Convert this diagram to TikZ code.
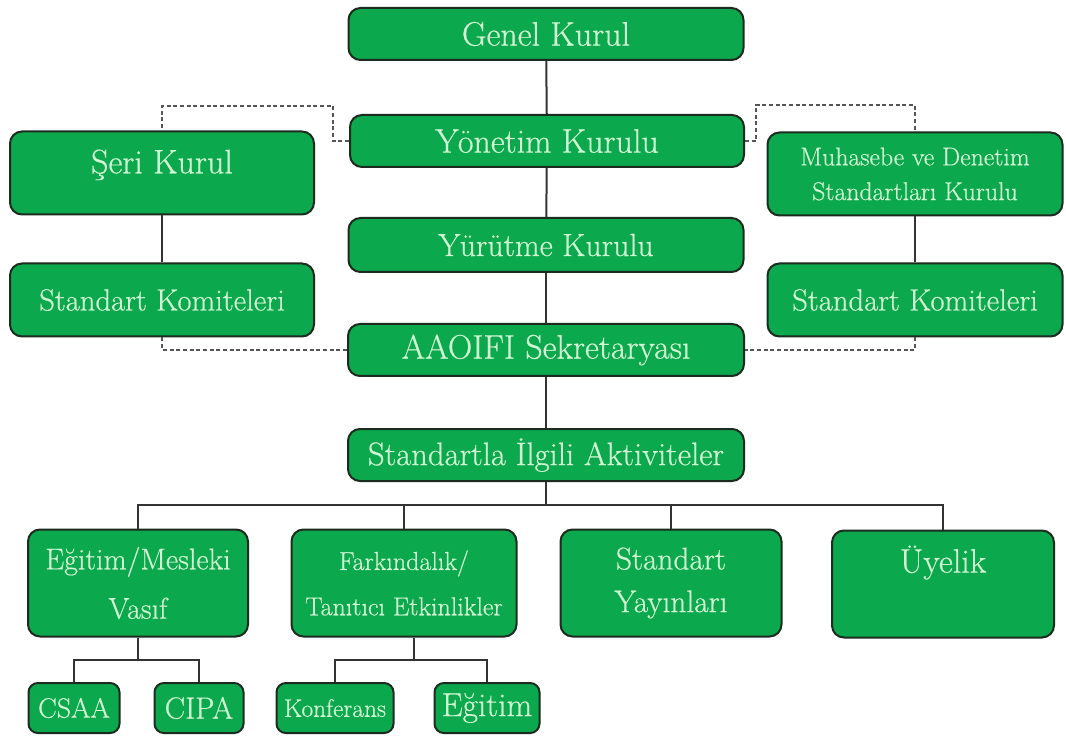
\documentclass[tikz,border=0pt]{standalone}
\usepackage{fontspec}
\setmainfont{Latin Modern Roman}[FakeBold=0.5]
\usetikzlibrary{calc}
\definecolor{boxgreen}{HTML}{0CA84D}
\definecolor{txtgreen}{HTML}{CFF5D2}
\definecolor{edgecol}{HTML}{1C2B1F}
\definecolor{conncol}{HTML}{333333}
\definecolor{dashcol}{HTML}{555555}
\newcommand{\myfs}[2]{\fontsize{#1}{#2}\selectfont}
\tikzset{
  box/.style={draw=edgecol, line width=1.5pt, fill=boxgreen, rounded corners=9pt,
    text=txtgreen, align=center, inner sep=0pt},
  sz/.style 2 args={minimum width=#1*0.75pt, minimum height=#2*0.75pt},
  conn/.style={draw=conncol, line width=1.5pt},
  dsh/.style={draw=dashcol, line width=1pt, dash pattern=on 3pt off 2pt},
}
\begin{document}
\begin{tikzpicture}[x=0.75pt,y=-0.75pt]
\useasboundingbox[fill=white] (0,0) rectangle (1066,737);
% center column
\node[box, sz={395}{52}, font=\myfs{25.5}{30}] (gk) at (546,34) {Genel Kurul};
\node[box, sz={394}{52}, font=\myfs{25.5}{30}] (yon) at (547,141) {Yönetim Kurulu};
\node[box, sz={395}{54}, font=\myfs{24}{30}] (yur) at (546,245) {Yürütme Kurulu};
\node[box, sz={396}{52}, font=\myfs{25.5}{30}] (aao) at (546,350) {AAOIFI Sekretaryası};
\node[box, sz={396}{52}, font=\myfs{24.5}{30}] (sia) at (546,455) {Standartla İlgili Aktiviteler};
% left column
\node[box, sz={304}{83}, font=\myfs{25.5}{30}, text height=18pt, text depth=17.5pt] (seri) at (162,173) {Şeri Kurul};
\node[box, sz={304}{73}, font=\myfs{23}{28}] (skl) at (162,300) {Standart Komiteleri};
% right column
\node[box, sz={295}{83}, font=\myfs{19.3}{26}] (muh) at (915,174) {Muhasebe ve Denetim\\Standartları Kurulu};
\node[box, sz={295}{73}, font=\myfs{23}{28}] (skr) at (915,300) {Standart Komiteleri};
% activities row
\node[box, sz={220}{107}, font=\myfs{22.5}{37}] (em) at (138,583) {Eğitim/Mesleki\\Vasıf};
\node[box, sz={225}{107}, font=\myfs{19.5}{34}] (fk) at (404,583) {Farkındalık/\\Tanıtıcı Etkinlikler};
\node[box, sz={221}{107}, font=\myfs{23.5}{32}] (sy) at (671,583) {Standart\\Yayınları};
\node[box, sz={222}{107}, font=\myfs{25.5}{30}, text height=18pt, text depth=35pt] (uy) at (943,584) {Üyelik};
% bottom row
\node[box, sz={91}{50}, rounded corners=7pt, font=\myfs{21}{24}] (csaa) at (74,708) {CSAA};
\node[box, sz={89}{50}, rounded corners=7pt, font=\myfs{23}{26}] (cipa) at (199,708) {CIPA};
\node[box, sz={117}{50}, rounded corners=7pt, font=\myfs{19}{22}] (kon) at (335,708) {Konferans};
\node[box, sz={105}{50}, rounded corners=7pt, font=\myfs{25}{28}] (eg) at (487,708) {Eğitim};
% solid connectors
\draw[conn] (gk) -- (yon);
\draw[conn] (yon) -- (yur);
\draw[conn] (yur) -- (aao);
\draw[conn] (aao) -- (sia);
\draw[conn] (seri) -- (skl);
\draw[conn] (muh) -- (skr);
\coordinate (busy) at (0,505);
\draw[conn] (sia.south) -- (sia.south |- busy);
\draw[conn] (em.north) |- (uy.north |- busy) -- (uy.north);
\draw[conn] (fk.north) -- (fk.north |- busy);
\draw[conn] (sy.north) -- (sy.north |- busy);
\coordinate (b2) at (0,660);
\draw[conn] (em.south) -- (em.south |- b2);
\draw[conn] (csaa.north) |- (cipa.north |- b2) -- (cipa.north);
\coordinate (fks) at ([xshift=7.5pt]fk.south);
\draw[conn] (fks) -- (fks |- b2);
\draw[conn] (kon.north) |- (eg.north |- b2) -- (eg.north);
% dashed connectors
\coordinate (dl) at (333,106);
\coordinate (dr) at (756,105);
\draw[dsh] (yon.west) -| (dl) -| (seri.north);
\draw[dsh] (yon.east) -| (dr) -| (muh.north);
\draw[dsh] (skl.south) |- (aao.west);
\draw[dsh] (skr.south) |- (aao.east);
\end{tikzpicture}
\end{document}
